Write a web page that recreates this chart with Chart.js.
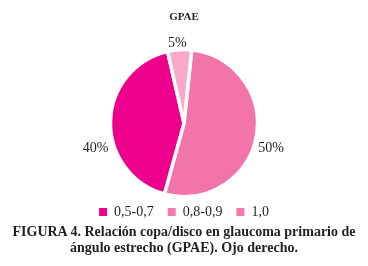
<!DOCTYPE html>
<html>
<head>
<meta charset="utf-8">
<script src="https://cdn.jsdelivr.net/npm/chart.js@4/dist/chart.umd.min.js"></script>
<style>
  html, body { margin: 0; padding: 0; background: #fff; }
  #wrap { position: relative; width: 368px; height: 266px; overflow: hidden; }
  #chartBox { position: absolute; left: 0; top: 0; width: 368px; height: 266px; }
  #caption {
    position: absolute; left: 0; top: 224px; width: 368px;
    text-align: center; font-family: "Liberation Serif", "Times New Roman", serif;
    font-weight: bold; font-size: 14px; line-height: 16px; color: #231f20;
  }
</style>
</head>
<body>
<div id="wrap">
  <div id="chartBox"><canvas id="c"></canvas></div>
  <div id="caption">FIGURA 4. Relación copa/disco en glaucoma primario de<br>ángulo estrecho (GPAE). Ojo derecho.</div>
</div>
<script>
// ---- data (drawing order, clockwise from the top) ----
const chartTitle = 'GPAE';
const categories = ['0,8-0,9', '0,5-0,7', '1,0'];
const values = [50, 40, 5];
const legendOrder = ['0,5-0,7', '0,8-0,9', '1,0'];

// ---- styles ----
const sliceColors = ['#f274a8', '#ec008c', '#f7a9c9'];
const legendColors = ['#f47bac', '#ec008c', '#f27aab'];
const labelShift = [[0, 11], [0, 27], [-2, -4.5]]; // px offsets for the value labels
const serif = '"Liberation Serif", "Times New Roman", serif';
const ink = '#231f20';

const valueLabels = {
  id: 'valueLabels',
  afterDatasetsDraw(chart) {
    const meta = chart.getDatasetMeta(0);
    const ctx = chart.ctx;
    ctx.save();
    ctx.font = '14px ' + serif;
    ctx.fillStyle = ink;
    ctx.textBaseline = 'middle';
    meta.data.forEach((arc, i) => {
      const p = arc.getProps(['x', 'y', 'startAngle', 'endAngle', 'outerRadius'], true);
      const mid = (p.startAngle + p.endAngle) / 2;
      const r = p.outerRadius + 2;
      const cx = Math.cos(mid), cy = Math.sin(mid);
      let x = p.x + cx * r, y = p.y + cy * r;
      ctx.textAlign = Math.abs(cx) < 0.3 ? 'center' : (cx > 0 ? 'left' : 'right');
      x += labelShift[i][0]; y += labelShift[i][1];
      ctx.fillText(values[i] + '%', x, y);
    });
    ctx.restore();
  }
};

new Chart(document.getElementById('c'), {
  type: 'pie',
  data: {
    labels: categories,
    datasets: [{
      data: values,
      backgroundColor: sliceColors,
      borderColor: '#ffffff',
      borderWidth: 3.5,
      hoverOffset: 0
    }]
  },
  options: {
    responsive: true,
    maintainAspectRatio: false,
    animation: false,
    rotation: 6,
    radius: 73.5,
    layout: { padding: { top: 0, bottom: 37, left: 0, right: 0 } },
    plugins: {
      tooltip: { enabled: false },
      title: {
        display: true,
        text: chartTitle,
        color: ink,
        font: { family: serif, size: 11, weight: 'bold' },
        padding: { top: 11, bottom: 31 }
      },
      legend: {
        display: true,
        position: 'bottom',
        labels: {
          color: ink,
          font: { family: serif, size: 14 },
          boxWidth: 8,
          boxHeight: 8,
          padding: 14,
          sort: (a, b) => legendOrder.indexOf(a.text) - legendOrder.indexOf(b.text),
          generateLabels: (chart) => categories.map((c, i) => ({
            text: c,
            fillStyle: legendColors[i],
            strokeStyle: legendColors[i],
            lineWidth: 0,
            fontColor: ink,
            index: i,
            hidden: false
          }))
        }
      }
    }
  },
  plugins: [valueLabels]
});
</script>
</body>
</html>
